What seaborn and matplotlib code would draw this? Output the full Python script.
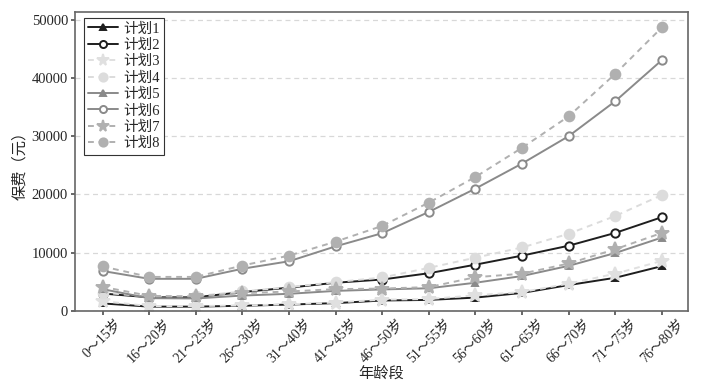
import matplotlib
matplotlib.use("Agg")
import matplotlib.pyplot as plt
import seaborn as sns
import pandas as pd

sns.set_theme(style="white")
plt.rcParams['font.family'] = ['Liberation Serif', 'Noto Sans CJK SC']
plt.rcParams['axes.unicode_minus'] = False

age_groups = ["0～15岁", "16～20岁", "21～25岁", "26～30岁", "31～40岁", "41～45岁", "46～50岁",
              "51～55岁", "56～60岁", "61～65岁", "66～70岁", "71～75岁", "76～80岁"]

plan1 = [1300, 750, 750, 900, 1100, 1350, 1800, 1900, 2300, 3100, 4450, 5700, 7700]
plan2 = [3000, 2350, 2350, 3250, 4000, 4850, 5400, 6480, 7950, 9500, 11200, 13400, 16100]
plan3 = [1700, 850, 850, 950, 1150, 1450, 1950, 2050, 2700, 3250, 4700, 6400, 8600]
plan4 = [3150, 2450, 2550, 3350, 4100, 4950, 5750, 7400, 9150, 10900, 13250, 16300, 19900]
plan5 = [3750, 2200, 2150, 2650, 2950, 3450, 3700, 3900, 4850, 6000, 7750, 9950, 12600]
plan6 = [6870, 5520, 5520, 7250, 8530, 11090, 13350, 17000, 21000, 25300, 30000, 36000, 43050]
plan7 = [4150, 2600, 2500, 3050, 3350, 3750, 3850, 4100, 5800, 6400, 8150, 10600, 13400]
plan8 = [7650, 5850, 5850, 7800, 9500, 11900, 14600, 18600, 23000, 28000, 33400, 40700, 48650]

series = {
    "计划1": plan1, "计划2": plan2, "计划3": plan3, "计划4": plan4,
    "计划5": plan5, "计划6": plan6, "计划7": plan7, "计划8": plan8,
}

dash = (0, (3, 2.5))
styles = {
    "计划1": dict(color="#1e1e1e", marker="^", ls="-", mfc="#1e1e1e", ms=5),
    "计划2": dict(color="#1e1e1e", marker="o", ls="-", mfc="white", ms=6),
    "计划3": dict(color="#e0e0e0", marker="*", ls=dash, mfc="#e0e0e0", ms=10),
    "计划4": dict(color="#dcdcdc", marker="o", ls=dash, mfc="#dcdcdc", ms=7),
    "计划5": dict(color="#8a8a8a", marker="^", ls="-", mfc="#8a8a8a", ms=5),
    "计划6": dict(color="#8a8a8a", marker="o", ls="-", mfc="white", ms=6),
    "计划7": dict(color="#b0b0b0", marker="*", ls=dash, mfc="#b0b0b0", ms=10),
    "计划8": dict(color="#b0b0b0", marker="o", ls=dash, mfc="#b0b0b0", ms=7),
}

fig = plt.figure(figsize=(7.10, 3.89), dpi=100)
ax = fig.add_axes([75/710, 1 - 311/389, (688-75)/710, (311-12)/389])

x = list(range(len(age_groups)))
for name, vals in series.items():
    st = styles[name]
    df = pd.DataFrame({"x": x, "y": vals})
    sns.lineplot(data=df, x="x", y="y", ax=ax, label=name, color=st["color"],
                 linestyle=st["ls"], linewidth=1.4, marker=st["marker"],
                 markersize=st["ms"], markerfacecolor=st["mfc"],
                 markeredgecolor=st["color"], markeredgewidth=1.4)

ax.set_xlim(-0.59, 12.56)
ax.set_ylim(0, 51300)
ax.set_yticks([0, 10000, 20000, 30000, 40000, 50000])
ax.set_xticks(x)
ax.set_xticklabels(age_groups, rotation=45, ha="center", fontsize=10)
ax.tick_params(axis="y", labelsize=10.5, direction="out", length=3, color="#555555", left=True, pad=2)
ax.tick_params(axis="x", direction="out", length=3, color="#555555", bottom=True, pad=1)
ax.yaxis.grid(True, linestyle=(0, (4, 3)), color="#d8d8d8", linewidth=0.9)
ax.set_axisbelow(True)
for sp in ax.spines.values():
    sp.set_color("#666666")
    sp.set_linewidth(1.2)

ax.set_xlabel("年龄段", fontsize=11, labelpad=1)
ax.set_ylabel("保费（元）", fontsize=11, labelpad=3)

leg = ax.legend(loc="upper left", bbox_to_anchor=(0.01, 0.99), fontsize=10.5, frameon=True,
                fancybox=False, edgecolor="#333333", framealpha=1, labelspacing=0.22,
                handlelength=2.0, handletextpad=0.4, borderpad=0.3, borderaxespad=0.2,
                markerscale=0.85)
leg.get_frame().set_linewidth(0.8)

fig.savefig("out.png", dpi=100)
